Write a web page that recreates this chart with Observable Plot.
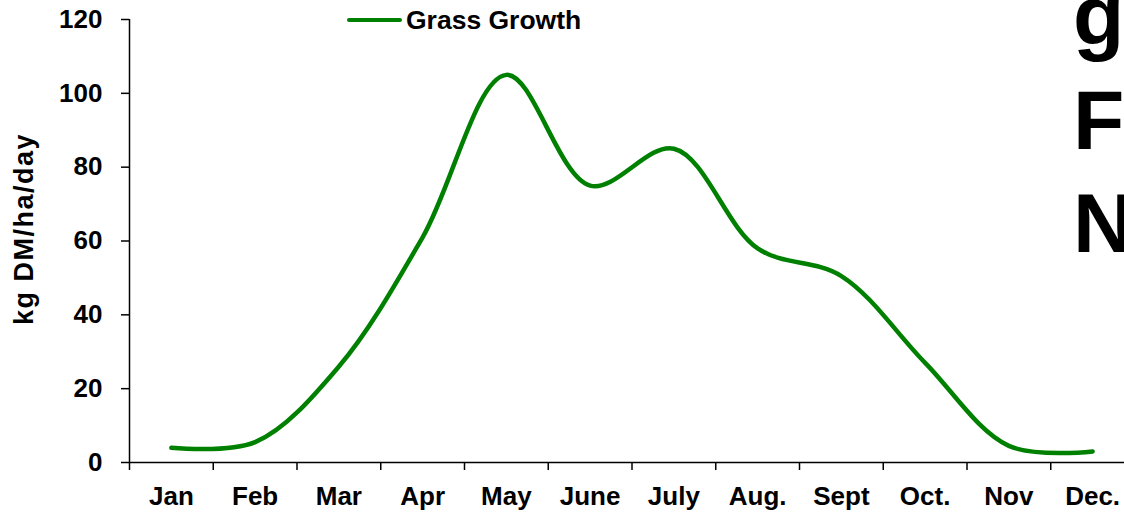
<!DOCTYPE html>
<html><head><meta charset="utf-8">
<script src="https://cdn.jsdelivr.net/npm/d3@7"></script>
<script src="https://cdn.jsdelivr.net/npm/@observablehq/plot@0.6"></script>
<style>
body{margin:0;background:#fff;overflow:hidden}
#wrap{position:relative;width:1124px;height:512px;overflow:hidden;font-family:"Liberation Sans",Arial,sans-serif;font-weight:bold;color:#000}
#legend{position:absolute;left:347px;top:5px;display:flex;align-items:center;font-size:26.5px;line-height:30px}
#legend .swatch{display:inline-block;width:55px;height:4px;background:#008000;border-radius:2px;margin-right:4px}
</style></head><body><div id="wrap"></div>
<script>
const months = ["Jan","Feb","Mar","Apr","May","June","July","Aug.","Sept","Oct.","Nov","Dec."];
const growth = [4, 5.5, 26, 61, 105, 75, 85, 58, 50.5, 27, 4.5, 3];
const yTicks = [0, 20, 40, 60, 80, 100, 120];
const seriesName = "Grass Growth";
const yLabel = "kg DM/ha/day";
const sideLetters = ["g", "F", "N"];

const data = months.map((m, i) => ({pos: i + 0.5, month: m, value: growth[i]}));
const font = '"Liberation Sans", Arial, sans-serif';

const plot = Plot.plot({
  width: 1124, height: 512,
  marginLeft: 129, marginTop: 19, marginBottom: 50, marginRight: 0,
  x: {domain: [0, 12], range: [129, 1134]},
  y: {domain: [0, 120]},
  style: {fontFamily: font, fontWeight: "bold", fontSize: "26px", color: "#000", background: "white", overflow: "visible"},
  marks: [
    Plot.ruleX([0], {y1: 0, y2: 120, stroke: "#000", strokeWidth: 1.5}),
    Plot.ruleY([0], {x1: 0, x2: 12.5, stroke: "#000", strokeWidth: 1.5}),
    Plot.axisY({ticks: yTicks, tickSize: 8, tickPadding: 19, label: null, fontSize: 26, strokeWidth: 1.5}),
    Plot.axisX({ticks: d3.range(0, 13), tickSize: 8, tickFormat: () => "", label: null, strokeWidth: 1.5}),
    Plot.axisX({ticks: data.map(d => d.pos), tickFormat: d => months[Math.floor(d)], tickSize: 0, tickPadding: 24, label: null, fontSize: 26}),
    Plot.line(data, {x: "pos", y: "value", curve: "catmull-rom", stroke: "#008000", strokeWidth: 4.5, strokeLinecap: "round"}),
    Plot.text([yLabel], {frameAnchor: "left", textAnchor: "middle", dx: -105, dy: -12, rotate: -90, fontSize: 27, fontWeight: "bold", fill: "#000"})
  ]
});

d3.select(plot).selectAll("text").filter(function() { return this.textContent === yLabel; }).style("letter-spacing", "1.5px");

// large overlapping letters at the right edge (from the slide behind the chart)
d3.select(plot).append("g")
  .attr("font-family", font).attr("font-weight", "bold").attr("font-size", 84).attr("fill", "#000")
  .attr("text-anchor", "start")
  .selectAll("text").data(sideLetters).join("text")
  .attr("x", 1073).attr("y", (d, i) => 45 + i * 103.5)
  .text(d => d);

const wrap = document.getElementById("wrap");
wrap.appendChild(plot);

const legend = document.createElement("div");
legend.id = "legend";
legend.innerHTML = `<span class="swatch"></span><span>${seriesName}</span>`;
wrap.appendChild(legend);
</script>
</body></html>
